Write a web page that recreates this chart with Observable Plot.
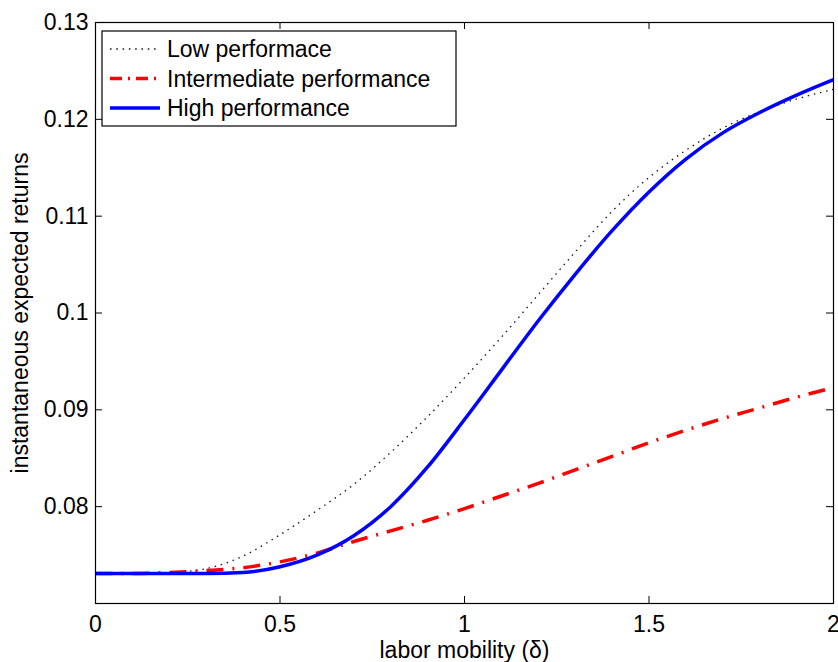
<!DOCTYPE html>
<html>
<head>
<meta charset="utf-8">
<script src="https://cdn.jsdelivr.net/npm/d3@7"></script>
<script src="https://cdn.jsdelivr.net/npm/@observablehq/plot@0.6"></script>
<style>
  html, body { margin: 0; padding: 0; background: #fff; }
  #wrap { position: relative; width: 838px; height: 662px; }
  #legend { position: absolute; left: 0; top: 0; }
</style>
</head>
<body>
<div id="wrap"></div>
<script>
// ---- data ----
const xValues = [0, 0.1, 0.2, 0.3, 0.4, 0.5, 0.6, 0.7, 0.8, 0.9, 1.0, 1.1, 1.2, 1.3, 1.4, 1.5, 1.6, 1.7, 1.8, 1.9, 2.0];
const lowPerformance = [0.0731, 0.0731, 0.0732, 0.0736, 0.0749, 0.0771, 0.0796, 0.0823, 0.0856, 0.0893, 0.0933, 0.0975, 0.1019, 0.1063, 0.1105, 0.1140, 0.1168, 0.1191, 0.1208, 0.1221, 0.1231];
const intermediatePerformance = [0.0731, 0.0731, 0.0732, 0.0734, 0.0737, 0.0743, 0.0752, 0.0764, 0.0775, 0.0786, 0.0798, 0.0811, 0.0824, 0.0838, 0.0852, 0.0866, 0.0879, 0.0891, 0.0902, 0.0913, 0.0923];
const highPerformance = [0.0731, 0.0731, 0.0731, 0.0731, 0.0732, 0.0738, 0.0750, 0.0770, 0.0800, 0.0841, 0.0890, 0.0941, 0.0992, 0.1040, 0.1085, 0.1125, 0.1159, 0.1186, 0.1207, 0.1225, 0.1241];
const seriesNames = ["Low performace", "Intermediate performance", "High performance"];
const xTicks = [0, 0.5, 1, 1.5, 2];
const yTicks = [0.08, 0.09, 0.1, 0.11, 0.12, 0.13];
const xLabel = "labor mobility (δ)";
const yLabel = "instantaneous expected returns";

// ---- layout / styles ----
const W = 838, H = 662;
const M = {top: 22, right: 5, bottom: 59, left: 95};
const plotW = W - M.left - M.right, plotH = H - M.top - M.bottom;
const tickLen = 7;
const FONT = "'Liberation Sans', Arial, Helvetica, sans-serif";
const FS = 23;
const styles = [
  {stroke: "#111", strokeWidth: 1.3, strokeDasharray: "1.5,4.8"},
  {stroke: "#ff0000", strokeWidth: 3.5, strokeDasharray: "17,9,2,9"},
  {stroke: "#0000ff", strokeWidth: 3.5, strokeDasharray: null}
];
const seriesValues = [lowPerformance, intermediatePerformance, highPerformance];
const series = seriesNames.map((name, i) => xValues.map((x, j) => ({x, y: seriesValues[i][j], name})));

const lineMarks = series.map((data, i) => Plot.line(data, {
  x: "x", y: "y", curve: "monotone-x",
  stroke: styles[i].stroke, strokeWidth: styles[i].strokeWidth,
  strokeDasharray: styles[i].strokeDasharray || undefined,
  strokeLinecap: "butt"
}));

const chart = Plot.plot({
  width: W, height: H,
  marginTop: M.top, marginRight: M.right, marginBottom: M.bottom, marginLeft: M.left,
  style: {fontFamily: FONT, fontSize: FS + "px", color: "#000", background: "#fff", overflow: "visible"},
  x: {domain: [0, 2], ticks: xTicks, tickSize: 0, tickPadding: 12, tickFormat: d => String(d), label: null},
  y: {domain: [0.07, 0.13], ticks: yTicks, tickSize: 0, tickPadding: 7, tickFormat: d => String(+d.toFixed(2)), label: null},
  marks: [
    ...lineMarks,
    Plot.tickX(xTicks, {x: d => d, insetTop: plotH - tickLen, stroke: "#000", strokeWidth: 1}),
    Plot.tickX(xTicks, {x: d => d, insetBottom: plotH - tickLen, stroke: "#000", strokeWidth: 1}),
    Plot.tickY(yTicks, {y: d => d, insetRight: plotW - tickLen, stroke: "#000", strokeWidth: 1}),
    Plot.tickY(yTicks, {y: d => d, insetLeft: plotW - tickLen, stroke: "#000", strokeWidth: 1}),
    Plot.frame({stroke: "#000", strokeWidth: 1.2}),
    Plot.text([xLabel], {text: d => d, frameAnchor: "bottom", dy: 47, textAnchor: "middle", lineAnchor: "middle", fontSize: FS, fill: "#000"}),
    Plot.text([yLabel], {text: d => d, frameAnchor: "left", dx: -75, rotate: -90, textAnchor: "middle", lineAnchor: "middle", fontSize: FS, fill: "#000"})
  ]
});
document.getElementById("wrap").appendChild(chart);

// ---- legend overlay (inside the axes, top-left) ----
const L = {x: 102, y: 31, w: 354, h: 95, rowH: 29.5, firstRow: 18, lineX1: 8, lineX2: 58, textX: 65};
const svg = d3.select("#wrap").append("svg")
  .attr("id", "legend").attr("width", W).attr("height", H)
  .style("font-family", FONT);
const g = svg.append("g").attr("transform", `translate(${L.x},${L.y})`);
g.append("rect").attr("width", L.w).attr("height", L.h).attr("fill", "#fff").attr("stroke", "#000").attr("stroke-width", 1.2);
seriesNames.forEach((name, i) => {
  const y = L.firstRow + i * L.rowH;
  g.append("line").attr("x1", L.lineX1).attr("x2", L.lineX2).attr("y1", y).attr("y2", y)
    .attr("stroke", styles[i].stroke).attr("stroke-width", styles[i].strokeWidth)
    .attr("stroke-dasharray", i === 1 ? "12,6,2,6" : styles[i].strokeDasharray);
  g.append("text").attr("x", L.textX).attr("y", y).attr("dy", "0.35em")
    .attr("font-size", FS).attr("fill", "#000").text(name);
});
</script>
</body>
</html>
